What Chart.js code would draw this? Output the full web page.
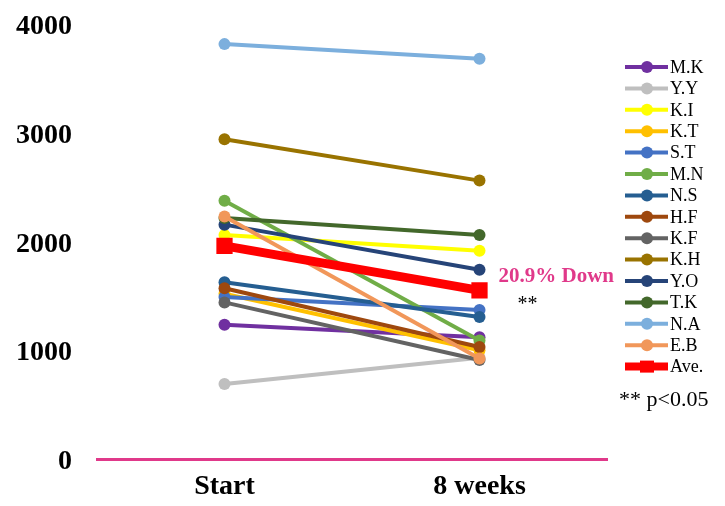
<!DOCTYPE html>
<html lang="en">
<head>
<meta charset="UTF-8" />
<title>Start vs 8 weeks</title>
<script src="https://cdn.jsdelivr.net/npm/chart.js"></script>
<style>
  body { margin: 0; background: #fff; }
</style>
</head>
<body>
<canvas id="chart" width="725" height="506"></canvas>
<script>
  const timePoints = ["Start", "8 weeks"];
  const names = ["M.K", "Y.Y", "K.I", "K.T", "S.T", "M.N", "N.S", "H.F", "K.F", "K.H", "Y.O", "T.K", "N.A", "E.B"];
  const startValues = [1235, 690, 2060, 1520, 1490, 2375, 1625, 1570, 1440, 2940, 2155, 2215, 3815, 2230];
  const weekValues = [1120, 930, 1915, 1000, 1370, 1090, 1305, 1030, 910, 2560, 1740, 2060, 3680, 925];
  const aveValues = [1960, 1550];
  const yTicks = [0, 1000, 2000, 3000, 4000];
  const colors = ["#7030A0", "#BFBFBF", "#FFFF00", "#FFC000", "#4472C4", "#70AD47", "#255E91",
    "#9E480E", "#636363", "#997300", "#264478", "#43682B", "#7CAFDD", "#F1975A"];

  const serif = "'Liberation Serif', 'Times New Roman', serif";

  const datasets = names.map((name, i) => ({
    label: name,
    data: [startValues[i], weekValues[i]],
    borderColor: colors[i],
    backgroundColor: colors[i],
    borderWidth: 4,
    pointRadius: 6,
    pointBorderWidth: 0,
    order: 20 - i,
  }));
  datasets.push({
    label: "Ave.",
    data: aveValues,
    borderColor: "#FF0000",
    backgroundColor: "#FF0000",
    borderWidth: 9,
    pointStyle: "rect",
    pointRadius: 11.5,
    pointBorderWidth: 0,
    order: 0,
  });

  // legend on the right and the text notes
  const sideLegend = {
    id: "sideLegend",
    afterDraw(chart) {
      const ctx = chart.ctx;
      ctx.save();
      chart.data.datasets.forEach((ds, i) => {
        const y = 67 + i * 21.4;
        const isAve = ds.label === "Ave.";
        ctx.strokeStyle = ds.borderColor;
        ctx.lineWidth = isAve ? 8 : 4;
        ctx.beginPath();
        ctx.moveTo(625, y);
        ctx.lineTo(668, y);
        ctx.stroke();
        ctx.fillStyle = ds.borderColor;
        if (isAve) {
          ctx.fillRect(640, y - 6, 14, 12);
        } else {
          ctx.beginPath();
          ctx.arc(647, y, 6, 0, Math.PI * 2);
          ctx.fill();
        }
        ctx.fillStyle = "#000";
        ctx.font = "18px " + serif;
        ctx.textBaseline = "middle";
        ctx.textAlign = "left";
        ctx.fillText(ds.label, 670, y + 1);
      });

      const meta = chart.getDatasetMeta(chart.data.datasets.length - 1);
      const p = meta.data[1];
      ctx.fillStyle = "#E0398A";
      ctx.font = "bold 21px " + serif;
      ctx.textBaseline = "middle";
      ctx.fillText("20.9% Down", p.x + 19, p.y - 14);
      ctx.fillStyle = "#000";
      ctx.font = "20px " + serif;
      ctx.textBaseline = "alphabetic";
      ctx.fillText("**", p.x + 38, p.y + 20);

      ctx.font = "22px " + serif;
      ctx.fillText("** p<0.05", 619, 406);
      ctx.restore();
    },
  };

  new Chart(document.getElementById("chart"), {
    type: "line",
    data: { labels: timePoints, datasets: datasets },
    options: {
      responsive: false,
      animation: false,
      layout: { padding: { top: 24, right: 118, bottom: 0, left: 0 } },
      plugins: { legend: { display: false }, tooltip: { enabled: false } },
      scales: {
        x: {
          offset: true,
          afterFit(scale) {
            scale.height = 47;
            scale.paddingLeft = 0;
            scale.paddingRight = 0;
          },
          grid: { display: false, drawTicks: false, tickLength: 0 },
          border: { display: true, color: "#E0398A", width: 3 },
          ticks: {
            color: "#000",
            padding: 11,
            font: { family: serif, size: 28, weight: "bold" },
          },
        },
        y: {
          min: 0,
          max: 4000,
          afterFit(scale) {
            scale.width = 97;
            scale.paddingTop = 0;
            scale.paddingBottom = 0;
          },
          afterBuildTicks(scale) { scale.ticks = yTicks.map((v) => ({ value: v })); },
          grid: { display: false, drawTicks: false, tickLength: 0 },
          border: { display: false },
          ticks: {
            color: "#000",
            padding: 25,
            labelOffset: 3,
            callback: (v) => String(v),
            font: { family: serif, size: 28, weight: "bold" },
          },
        },
      },
    },
    plugins: [sideLegend],
  });
</script>
</body>
</html>
